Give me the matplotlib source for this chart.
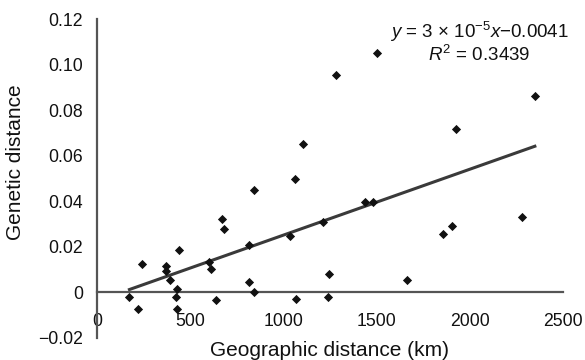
import numpy as np
import matplotlib
matplotlib.use("Agg")
import matplotlib.pyplot as plt

plt.rcParams["font.family"] = ["Liberation Sans", "DejaVu Sans"]
plt.rcParams["mathtext.fontset"] = "custom"
plt.rcParams["mathtext.rm"] = "Liberation Sans"
plt.rcParams["mathtext.it"] = "Liberation Sans:italic"

# geographic distance (km) vs genetic distance
geo_km = [174, 222, 240, 369, 369, 392, 440, 428, 424, 428,
          601, 610, 639, 670, 682, 818, 816, 843, 843, 1037,
          1063, 1105, 1067, 1212, 1244, 1240, 1284, 1436, 1481, 1502,
          1665, 1855, 1907, 1926, 2279, 2349]
gen_dist = [-0.0019, -0.0074, 0.0124, 0.0115, 0.0093, 0.0054, 0.0185, 0.0013, -0.0019, -0.0074,
            0.0133, 0.0101, -0.0035, 0.0323, 0.0279, 0.0210, 0.0045, 0.0001, 0.0451, 0.0247,
            0.0497, 0.0651, -0.0027, 0.0310, 0.0082, -0.0019, 0.0954, 0.0395, 0.0398, 0.1052,
            0.0053, 0.0258, 0.0290, 0.0719, 0.0331, 0.0860]

xticks = [0, 500, 1000, 1500, 2000, 2500]
yticks = [-0.02, 0, 0.02, 0.04, 0.06, 0.08, 0.10, 0.12]
ytick_labels = ["\u22120.02", "0", "0.02", "0.04", "0.06", "0.08", "0.10", "0.12"]

fig = plt.figure(figsize=(5.85, 3.6), dpi=100)
ax = fig.add_axes([97 / 585, 22 / 360, 466 / 585, 319 / 360])

ax.scatter(geo_km, gen_dist, marker="D", s=22, color="#111111", zorder=3, linewidths=0)

# linear trend line over the data range
coef = np.polyfit(geo_km, gen_dist, 1)
xs = np.array([min(geo_km), max(geo_km)])
ax.plot(xs, np.polyval(coef, xs), color="#3a3a3a", lw=2.2, zorder=2)

ax.set_xlim(0, 2500)
ax.set_ylim(-0.02, 0.12)
ax.set_xticks(xticks)
ax.set_xticklabels([str(t) for t in xticks])
ax.set_yticks(yticks)
ax.set_yticklabels(ytick_labels)

for s in ["top", "right"]:
    ax.spines[s].set_visible(False)
ax.spines["bottom"].set_position(("data", 0))
for s in ["left", "bottom"]:
    ax.spines[s].set_color("#555555")
    ax.spines[s].set_linewidth(1.6)
ax.tick_params(axis="x", length=0, pad=15, labelsize=12.7, colors="#111111")
ax.tick_params(axis="y", length=0, pad=10, labelsize=12.7, colors="#111111")

fig.text(330 / 585, 1 - 350 / 360, "Geographic distance (km)", ha="center", va="center",
         fontsize=15, color="#111111")
fig.text(16 / 585, 1 - 162 / 360, "Genetic distance", ha="center", va="center",
         rotation=90, fontsize=15, color="#111111")

ax.text(2050, 0.1098, "$y$ = 3 \u00d7 10$^{-5}$$x$\u22120.0041" + "\n" + "$R^2$ = 0.3439",
        ha="center", va="center", multialignment="center", fontsize=13.5,
        color="#111111", linespacing=1.05)

fig.savefig("out.png", dpi=100)
